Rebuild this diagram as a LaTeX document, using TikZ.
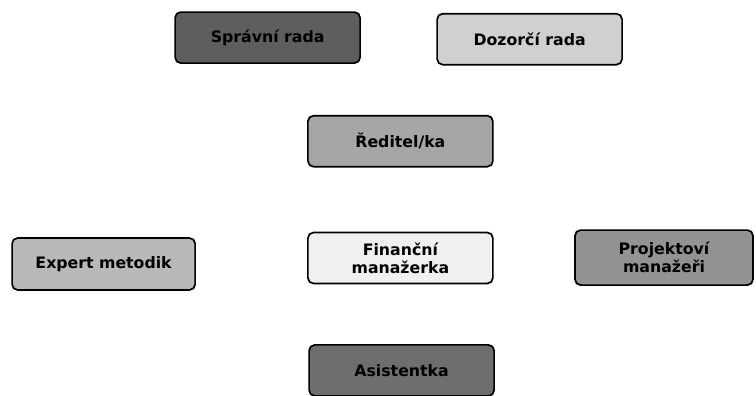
\documentclass[tikz,border=0pt]{standalone}
\usepackage{fontspec}
\setmainfont{DejaVu Sans}
\definecolor{darkbox}{HTML}{5E5E5E}
\definecolor{midbox}{HTML}{A6A6A6}
\definecolor{lightbox}{HTML}{D0D0D0}
\begin{document}
\begin{tikzpicture}[
orgbox/.style={draw,very thick,rounded corners=4pt,minimum width=4.625cm,minimum height=1.275cm,
align=center,font=\fontsize{11.2}{13}\selectfont\bfseries},
]
\useasboundingbox[fill=white] (0,0) rectangle (18.9,9.9);

%Top Left
\node[orgbox,fill=darkbox,
] (sprava) at (6.69,8.96){Správní rada};

%Top Right
\node[orgbox,fill=lightbox,
] (dozor) at (13.24,8.92){Dozorčí rada};

%Middle
\node[orgbox,fill=midbox,
] (reditel) at (10.01,6.37){Ředitel/ka};


%Left
\node[orgbox,fill=gray!55,minimum width=4.575cm,minimum height=1.3cm,
] (expert) at (2.59,3.3){Expert metodik};

%Center
\node[orgbox,fill=gray!12,
] (financni) at (10.01,3.45){Finanční\\manažerka};

%Right
\node[orgbox,fill=gray!85,minimum width=4.45cm,minimum height=1.375cm,
] (projekt) at (16.6,3.46){Projektoví\\manažeři};


%Bottom
\node[orgbox,fill=darkbox!90,
] (asistent) at (10.04,0.64){Asistentka};

\end{tikzpicture}
\end{document}
